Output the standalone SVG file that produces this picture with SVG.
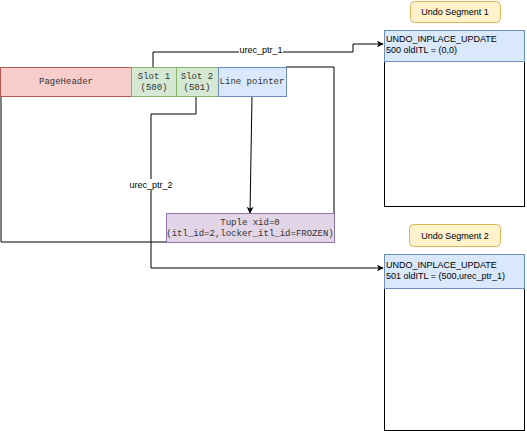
<svg xmlns="http://www.w3.org/2000/svg" width="527" height="431" viewBox="0 0 527 431">
<defs>
<marker id="arr" viewBox="0 0 10 10" refX="9" refY="5" markerWidth="7" markerHeight="7" orient="auto" markerUnits="userSpaceOnUse">
<path d="M0,0 L10,5 L0,10 L3,5 Z" fill="#000"/>
</marker>
</defs>
<style>
.mono{font-family:"Liberation Mono","DejaVu Sans Mono",monospace;font-size:9px;fill:#333;text-anchor:middle}
.sans{font-family:"Liberation Sans",Arial,sans-serif;font-size:9px;fill:#000}
.mid{text-anchor:middle}
.ln{fill:none;stroke:#000;stroke-width:1}
.lbl{fill:#fff}
</style>
<rect width="527" height="431" fill="#fff"/>
<g id="page-outline">
<polyline class="ln" points="286,67 334,67 334,213"/>
<polyline class="ln" points="1,96 1,242 166,242"/>
</g>
<g id="connectors">
<polyline class="ln" points="153,67 153,52 353,52 353,44 383,44" marker-end="url(#arr)"/>
<rect class="lbl" x="239" y="45" width="44" height="10"/>
<text class="sans mid" x="261" y="53">urec_ptr_1</text>
<polyline class="ln" points="196,96 196,114 151,114 151,268 383,268" marker-end="url(#arr)"/>
<rect class="lbl" x="134" y="179" width="34" height="11"/>
<text class="sans mid" x="151" y="188">urec_ptr_2</text>
<line class="ln" x1="252" y1="96" x2="250" y2="213" marker-end="url(#arr)"/>
</g>
<g id="pageheader">
<rect x="0.5" y="67.5" width="131" height="29" fill="#f8cecc" stroke="#b85450"/>
<text class="mono" x="66" y="84">PageHeader</text>
</g>
<g id="slot1">
<rect x="131.5" y="67.5" width="45" height="29" fill="#d5e8d4" stroke="#82b366"/>
<text class="mono" x="154" y="79">Slot 1</text>
<text class="mono" x="154" y="90">(500)</text>
</g>
<g id="slot2">
<rect x="176.5" y="67.5" width="42" height="29" fill="#d5e8d4" stroke="#82b366"/>
<text class="mono" x="197" y="79">Slot 2</text>
<text class="mono" x="197" y="90">(501)</text>
</g>
<g id="linepointer">
<rect x="218.5" y="67.5" width="68" height="29" fill="#dae8fc" stroke="#6c8ebf"/>
<text class="mono" x="252" y="84">Line pointer</text>
</g>
<g id="tuple">
<rect x="166.5" y="213.5" width="168" height="29" fill="#e1d5e7" stroke="#9673a6"/>
<text class="mono" x="250" y="225">Tuple xid=0</text>
<text class="mono" x="250" y="236">(itl_id=2,locker_itl_id=FROZEN)</text>
</g>
<g id="undo-seg1-label">
<rect x="410.5" y="1.5" width="90" height="21" rx="4" fill="#fff2cc" stroke="#d6b656"/>
<text class="sans mid" x="455" y="15">Undo Segment 1</text>
</g>
<g id="undo-seg1">
<rect x="384.5" y="30.5" width="140" height="176" fill="#fff" stroke="#000"/>
<rect x="384.5" y="30.5" width="140" height="31" fill="#dae8fc" stroke="#6c8ebf"/>
<text class="sans" x="386" y="42">UNDO_INPLACE_UPDATE</text>
<text class="sans" x="386" y="53">500 oldITL = (0,0)</text>
</g>
<g id="undo-seg2-label">
<rect x="409.5" y="224.5" width="91" height="22" rx="4" fill="#fff2cc" stroke="#d6b656"/>
<text class="sans mid" x="455" y="239">Undo Segment 2</text>
</g>
<g id="undo-seg2">
<rect x="384.5" y="254.5" width="140" height="176" fill="#fff" stroke="#000"/>
<rect x="384.5" y="254.5" width="140" height="34" fill="#dae8fc" stroke="#6c8ebf"/>
<text class="sans" x="386" y="268">UNDO_INPLACE_UPDATE</text>
<text class="sans" x="386" y="279">501 oldITL = (500,urec_ptr_1)</text>
</g>
</svg>
